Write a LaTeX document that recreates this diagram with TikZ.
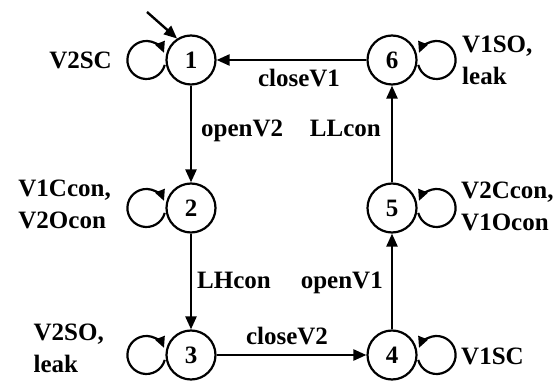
\documentclass[tikz,border=0pt]{standalone}
\usepackage{fontspec}
\setmainfont{Liberation Serif}
\usetikzlibrary{arrows.meta}
\begin{document}
\begin{tikzpicture}[x=1pt,y=1pt,
  state/.style={circle,draw,line width=2.2pt,minimum size=49pt,inner sep=0pt,
    font=\fontsize{25}{28}\selectfont\bfseries},
  txt/.style={inner sep=0pt,align=left,font=\fontsize{25}{32}\selectfont\bfseries},
  arr/.style={line width=2.4pt,-{Triangle[length=13pt,width=11pt]}},
  selfarr/.style={line width=2.2pt,-{Triangle[length=11pt,width=10pt]}}]
\useasboundingbox (0,0) rectangle (556,380);

% states
\node[state] (n1) at (191,320) {1};
\node[state] (n2) at (191,172) {2};
\node[state] (n3) at (191,25)  {3};
\node[state] (n4) at (392,25)  {4};
\node[state] (n5) at (392,172) {5};
\node[state] (n6) at (392,320) {6};

% initial arrow
\coordinate (start) at (147,368);
\draw[arr] (start) -- (n1.123);

% transitions
\draw[arr] (n1) -- (n2);
\draw[arr] (n2) -- (n3);
\draw[arr] (n3) -- (n4);
\draw[arr] (n4) -- (n5);
\draw[arr] (n5) -- (n6);
\draw[arr] (n6) -- (n1);

% self loops on the left
\foreach \s in {n1,n2,n3}{
  \draw[selfarr] ([xshift=-19pt]\s.west) ++(-15:19pt)
    arc[start angle=-15, end angle=-338, radius=19pt];
}
% self loops on the right
\foreach \s in {n4,n5,n6}{
  \draw[selfarr] ([xshift=19pt]\s.east) ++(195:19pt)
    arc[start angle=195, end angle=518, radius=19pt];
}

% transition labels
\node[txt,anchor=base] (lcv1) at (299,293) {closeV1};
\node[txt,anchor=base west] (lov2) at (201,243) {openV2};
\node[txt,anchor=base east] (lllc) at (381,243) {LLcon};
\node[txt,anchor=base west] (llhc) at (197,92) {LHcon};
\node[txt,anchor=base east] (lov1) at (383,92) {openV1};
\node[txt,anchor=base] (lcv2) at (287,36) {closeV2};

% state outputs
\node[txt,anchor=east] (o1) at (112,320) {V2SC};
\node[txt,anchor=east] (o2) at (111,176) {V1Ccon,\\V2Ocon};
\node[txt,anchor=east] (o3) at (104,32) {V2SO,\\leak};
\node[txt,anchor=west] (o4) at (461,24) {V1SC};
\node[txt,anchor=west] (o5) at (461,174) {V2Ccon,\\V1Ocon};
\node[txt,anchor=west] (o6) at (462,320) {V1SO,\\leak};
\end{tikzpicture}
\end{document}
